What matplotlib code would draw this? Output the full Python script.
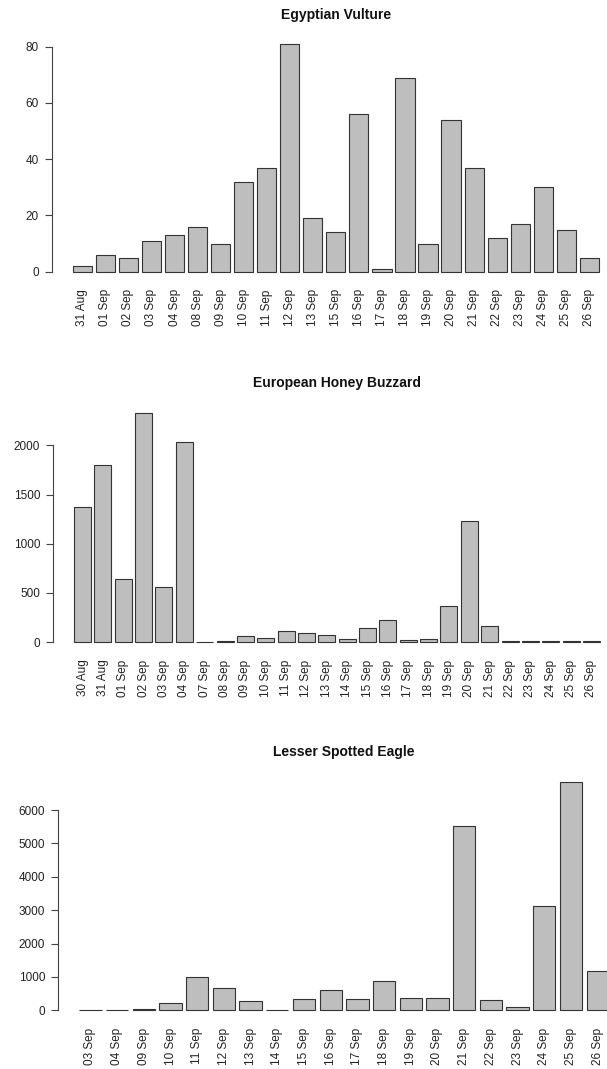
import matplotlib.pyplot as plt

plt.rcParams['font.family'] = ['Liberation Sans', 'DejaVu Sans']

# Egyptian Vulture
ev_days = ["31 Aug", "01 Sep", "02 Sep", "03 Sep", "04 Sep", "08 Sep", "09 Sep",
           "10 Sep", "11 Sep", "12 Sep", "13 Sep", "15 Sep", "16 Sep", "17 Sep",
           "18 Sep", "19 Sep", "20 Sep", "21 Sep", "22 Sep", "23 Sep", "24 Sep",
           "25 Sep", "26 Sep"]
ev_counts = [2, 6, 5, 11, 13, 16, 10, 32, 37, 81, 19, 14, 56, 1, 69, 10, 54, 37,
             12, 17, 30, 15, 5]

# European Honey Buzzard
hb_days = ["30 Aug", "31 Aug", "01 Sep", "02 Sep", "03 Sep", "04 Sep", "07 Sep",
           "08 Sep", "09 Sep", "10 Sep", "11 Sep", "12 Sep", "13 Sep", "14 Sep",
           "15 Sep", "16 Sep", "17 Sep", "18 Sep", "19 Sep", "20 Sep", "21 Sep",
           "22 Sep", "23 Sep", "24 Sep", "25 Sep", "26 Sep"]
hb_counts = [1370, 1800, 640, 2330, 560, 2035, 3, 10, 62, 42, 112, 95, 72, 32,
             138, 220, 22, 34, 365, 1232, 168, 10, 15, 10, 6, 10]

# Lesser Spotted Eagle
lse_days = ["03 Sep", "04 Sep", "09 Sep", "10 Sep", "11 Sep", "12 Sep", "13 Sep",
            "14 Sep", "15 Sep", "16 Sep", "17 Sep", "18 Sep", "19 Sep", "20 Sep",
            "21 Sep", "22 Sep", "23 Sep", "24 Sep", "25 Sep", "26 Sep"]
lse_counts = [5, 5, 25, 215, 1010, 680, 290, 5, 340, 610, 350, 890, 380, 380,
              5520, 300, 100, 3125, 6850, 1190]

panels = [
    ("Egyptian Vulture", ev_days, ev_counts, [0, 20, 40, 60, 80]),
    ("European Honey Buzzard", hb_days, hb_counts, [0, 500, 1000, 1500, 2000]),
    ("Lesser Spotted Eagle", lse_days, lse_counts, [0, 1000, 2000, 3000, 4000, 5000, 6000]),
]

# plot regions in pixels: left, right, top, bottom
boxes = [(51.7, 620, 34.8, 280.8), (53, 621, 403.7, 651.2), (58.1, 630, 772.5, 1019.4)]

W, H = 607, 1069
fig = plt.figure(figsize=(W / 100, H / 100), dpi=100)

for (title, days, counts, yt), (l, r, t, b) in zip(panels, boxes):
    ax = fig.add_axes([l / W, 1 - b / H, (r - l) / W, (b - t) / H])
    n = len(days)
    xs = [0.7 + 1.2 * i for i in range(n)]
    ax.bar(xs, counts, width=1.0, color='#bebebe', edgecolor='#333333', linewidth=0.8)
    span = 1.2 * n - 0.2
    ax.set_xlim(0.2 - 0.04 * span, 0.2 + 1.04 * span)
    top = max(counts)
    ax.set_ylim(-0.04 * top, 1.04 * top)
    for s in ['top', 'right', 'bottom']:
        ax.spines[s].set_visible(False)
    ax.spines['left'].set_bounds(yt[0], yt[-1])
    ax.spines['left'].set_color('#444444')
    ax.spines['left'].set_linewidth(0.8)
    ax.set_yticks(yt)
    ax.set_yticklabels([str(v) for v in yt])
    ax.tick_params(axis='y', length=5, width=0.8, color='#444444', pad=4.3,
                   labelsize=8.5, labelcolor='#222222')
    ax.set_xticks(xs)
    ax.set_xticklabels(days, rotation=90)
    ax.tick_params(axis='x', length=0, pad=6, labelsize=8.5, labelcolor='#222222')
    ax.set_title(title, fontsize=10, fontweight='bold', pad=11.7, color='#111111')

fig.savefig("out.png", dpi=100)
